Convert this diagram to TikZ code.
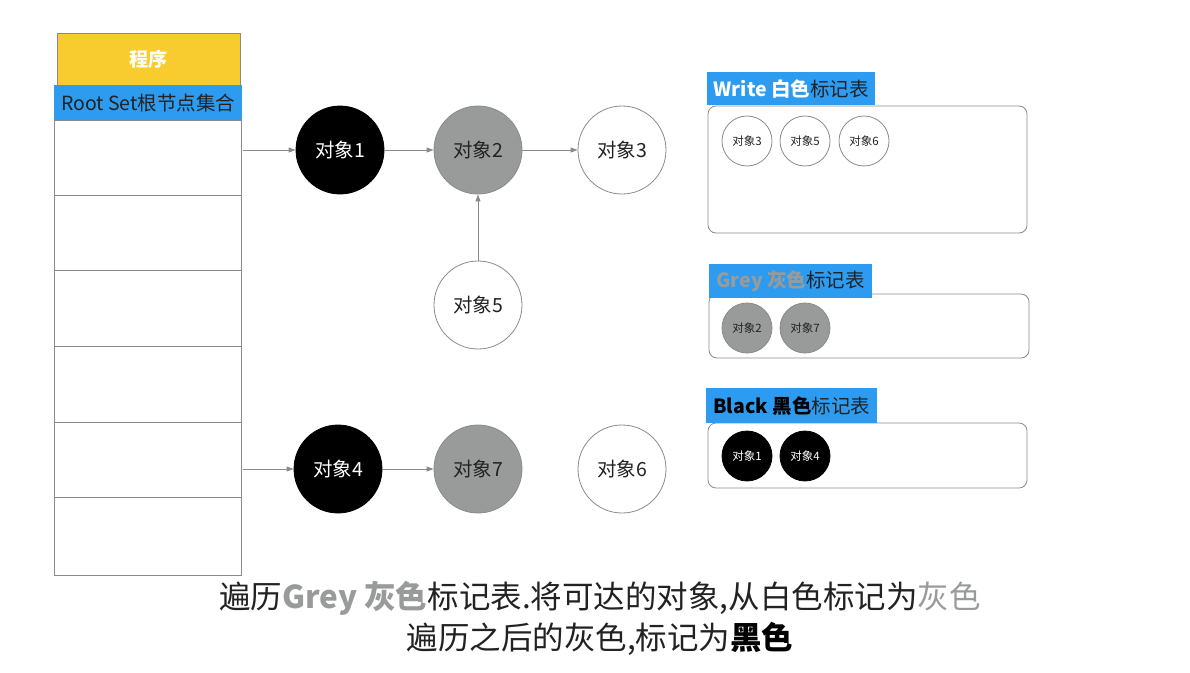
\documentclass[tikz,border=0pt]{standalone}
\usepackage{fontspec}
\setmainfont{Noto Sans CJK SC}
\newfontfamily\cjk{Noto Sans CJK SC}
\usetikzlibrary{arrows.meta}
\definecolor{gyellow}{HTML}{F8CB2E}
\definecolor{gblue}{HTML}{2D9BF0}
\definecolor{ggrey}{HTML}{999B9A}
\definecolor{gline}{HTML}{8A8A8A}
\definecolor{gtext}{HTML}{222222}
\begin{document}
\begin{tikzpicture}[x=1pt,y=-1pt,
  obj/.style={circle,draw=gline,line width=0.8pt,minimum size=88pt,inner sep=0pt,font=\fontsize{19.5}{21}\selectfont},
  small/.style={circle,draw=gline,line width=0.8pt,minimum size=50pt,inner sep=0pt,font=\fontsize{11.5}{13}\selectfont},
  wob/.style={fill=white,text=gtext},
  gob/.style={fill=ggrey,text=gtext},
  bob/.style={fill=black,draw=black,text=white},
  arr/.style={-{Triangle[length=7pt,width=5pt]},draw=gline,line width=0.8pt},
  lbl/.style={fill=gblue,inner sep=0pt,anchor=north west,font=\fontsize{19.5}{21}\selectfont,text=gtext},
  tbl/.style={draw=gline,line width=0.8pt,rounded corners=8pt},
  cell/.style={draw=gline,line width=0.8pt}]
\useasboundingbox (0,0) rectangle (1190,672);
% program column
\node[fill=gyellow,draw=gline,line width=0.5pt,minimum width=183pt,minimum height=52pt,inner sep=0pt,anchor=north west,text=white,font=\fontsize{19}{21}\selectfont\bfseries] (prog) at (57,33) {程序};
\node[fill=gblue,minimum width=188pt,minimum height=35pt,inner sep=0pt,anchor=north west,text=gtext,font=\fontsize{19.5}{21}\selectfont] (root) at (54,85) {Root Set根节点集合};
\foreach \i/\ya/\yb in {1/120/195,2/195/270,3/270/346,4/346/422,5/422/497,6/497/575}{
  \node[cell,minimum width=187pt,minimum height=\yb-\ya,inner sep=0pt,anchor=north west] (c\i) at (54,\ya) {};
}
\coordinate (s1) at (243,150);
\coordinate (s4) at (243,469);
% objects
\node[obj,bob] (o1) at (340,150) {对象1};
\node[obj,gob] (o2) at (478,150) {对象2};
\node[obj,wob] (o3) at (622,150) {对象3};
\node[obj,wob] (o5) at (478,305) {对象5};
\node[obj,bob] (o4) at (338,469) {对象4};
\node[obj,gob] (o7) at (478,469) {对象7};
\node[obj,wob] (o6) at (622,469) {对象6};
\draw[arr] (s1) -- (o1);
\draw[arr] (o1) -- (o2);
\draw[arr] (o2) -- (o3);
\draw[arr] (o5) -- (o2);
\draw[arr] (s4) -- (o4);
\draw[arr] (o4) -- (o7);
% write table
\draw[tbl] (708,106) rectangle (1027,233);
\node[lbl,minimum width=168pt,minimum height=33pt] (lw) at (707,72) {\textcolor{white}{\bfseries Write 白色}标记表};
\node[small,wob] (w3) at (747,141) {对象3};
\node[small,wob] (w5) at (805,141) {对象5};
\node[small,wob] (w6) at (864,141) {对象6};
% grey table
\draw[tbl] (709,294) rectangle (1029,358);
\node[lbl,minimum width=163pt,minimum height=34pt] (lg) at (709,264) {\textcolor{ggrey}{\bfseries Grey 灰色}标记表};
\node[small,gob] (g2) at (747,328) {对象2};
\node[small,gob] (g7) at (805,328) {对象7};
% black table
\draw[tbl] (708,423) rectangle (1027,488);
\node[lbl,minimum width=171pt,minimum height=35pt] (lb) at (706,388) {\textcolor{black}{\bfseries Black 黑色}标记表};
\node[small,bob] (b1) at (747,456) {对象1};
\node[small,bob] (b4) at (805,456) {对象4};
% caption
\node[font=\fontsize{31.5}{33}\selectfont,text=gtext] (cap1) at (600,598) {遍历\textcolor{ggrey}{\bfseries Grey 灰色}标记表.将可达的对象,从白色标记为\textcolor{ggrey}{灰色}};
\node[font=\fontsize{31.5}{33}\selectfont,text=gtext] (cap2) at (600,639) {遍历之后的灰色,标记为\textcolor{black}{\bfseries 黑色}};
\end{tikzpicture}
\end{document}
